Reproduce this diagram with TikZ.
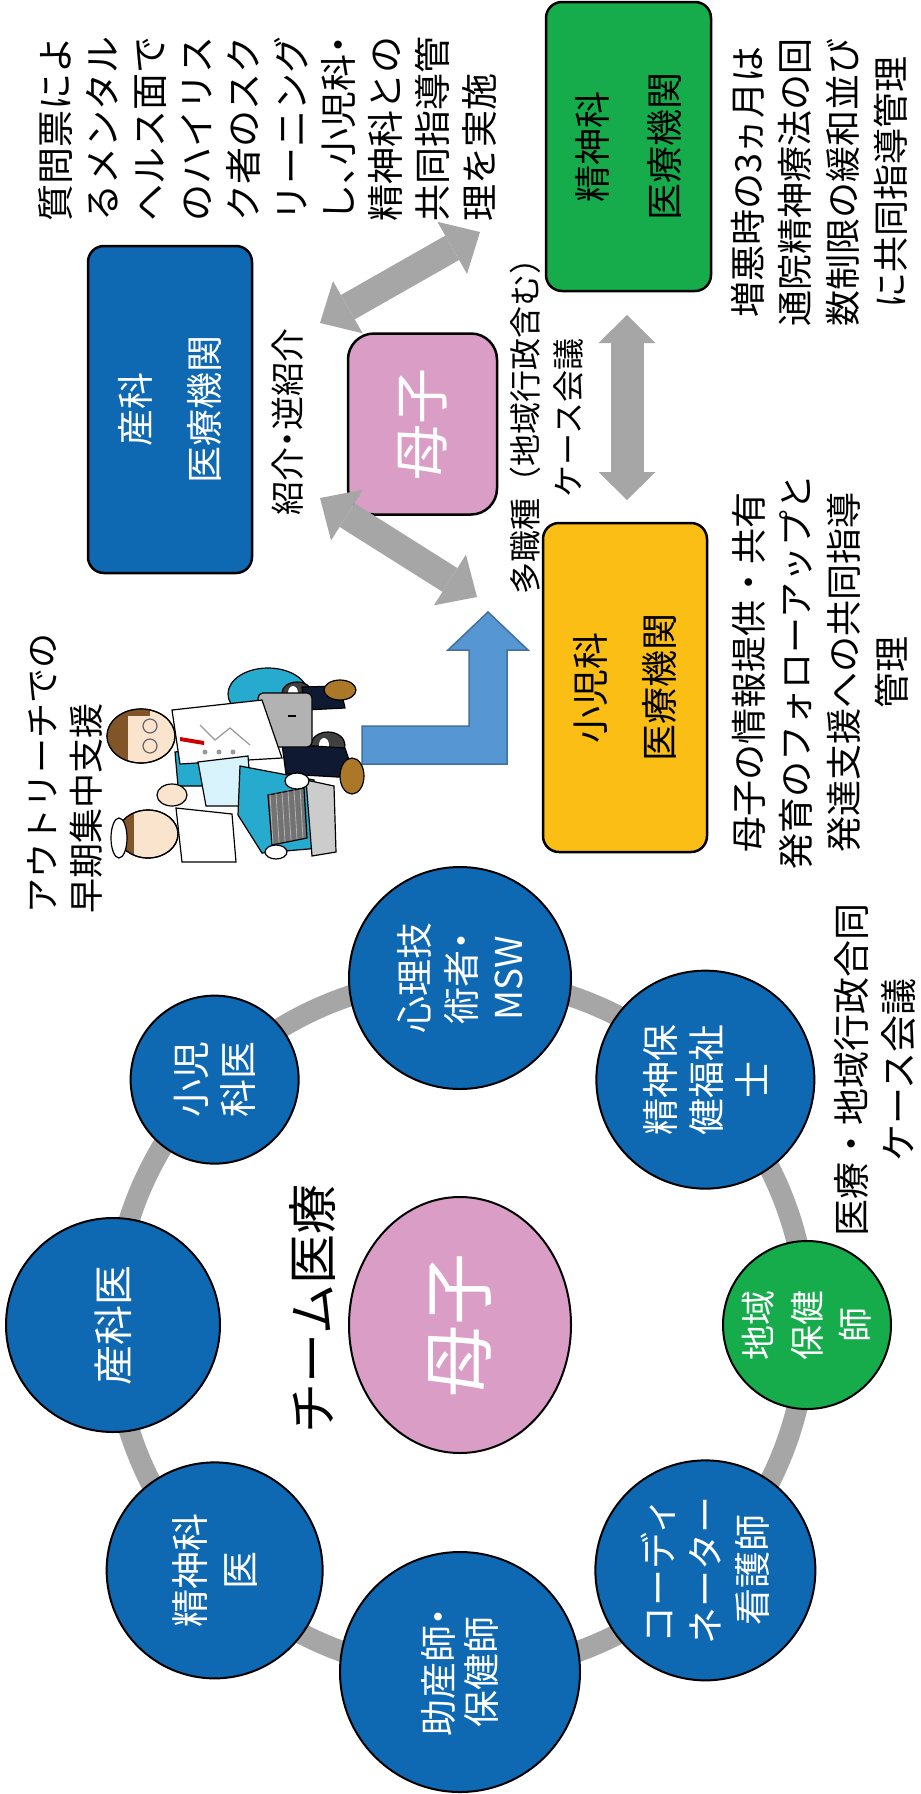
\documentclass[tikz,border=0pt]{standalone}
\usepackage{fontspec}
\setmainfont{Noto Sans CJK JP}
\usetikzlibrary{arrows.meta,shapes.geometric}

\definecolor{medblue}{RGB}{14,104,178}
\definecolor{medgreen}{RGB}{22,172,76}
\definecolor{medyellow}{RGB}{251,190,20}
\definecolor{mompink}{RGB}{218,157,198}
\definecolor{arrgray}{RGB}{166,166,166}
\definecolor{bentblue}{RGB}{86,151,211}
\definecolor{bentedge}{RGB}{65,113,156}
\definecolor{carteal}{RGB}{38,170,205}
\definecolor{skin}{RGB}{250,228,205}
\definecolor{hair}{RGB}{130,85,40}
\definecolor{navy}{RGB}{15,25,50}
\definecolor{shoe}{RGB}{170,120,40}

\newcommand\sz[2]{\fontsize{#1}{#2}\selectfont}
\newcommand\hw[2][c]{\makebox[.5em][#1]{#2}}

\begin{document}
\begin{tikzpicture}[x=1pt,y=-1pt,
    box/.style={rectangle,rounded corners=16pt,draw=black,line width=2.5pt,rotate=90,align=center,inner sep=0pt},
    member/.style={circle,draw=black,line width=2pt,fill=medblue,text=white,align=center,rotate=90,inner sep=0pt},
    note/.style={rotate=90,inner sep=0pt},
    twoway/.style={color=arrgray,line width=28pt,>={Triangle[length=32pt,width=60pt,line width=0pt]},<->}]

    \path[fill=white,use as bounding box] (0,0) rectangle (921,1794);

    \node[box,fill=medblue,text=white,minimum width=327pt,minimum height=164pt,font=\sz{37}{69}] (obst) at (170,409.5) {産科\\医療機関};
    \node[box,fill=medgreen,minimum width=289pt,minimum height=165pt,font=\sz{37}{72}] (psych) at (628.5,146.5) {精神科\\医療機関};
    \node[box,fill=medyellow,minimum width=329pt,minimum height=164pt,font=\sz{37}{69}] (pedi) at (625,687.5) {小児科\\医療機関};
    \node[box,fill=mompink,text=white,rounded corners=26pt,minimum width=181pt,minimum height=149pt,font=\sz{56}{60}] (mc) at (422.5,424) {母子};

    \node[note,align=left,font=\sz{37}{47.2}] (screen) at (267.5,128.5) {質問票によ\\るメンタル\\ヘルス面で\\のハイリス\\ク者のスク\\リーニング\\し\hw[l]{、}小児科\hw{・}\\精神科との\\共同指導管\\理を実施};
    \node[note,font=\sz{34}{40}] (refer) at (288,422) {紹介\hw{・}逆紹介};
    \node[note,align=center,font=\sz{32}{43}] (conf) at (546.5,418) {多職種（地域行政含む）\\ケース会議};
    \node[note,align=center,font=\sz{36}{47.7}] (psychnote) at (819,182) {増悪時の3ヵ月は\\通院精神療法の回\\数制限の緩和並び\\に共同指導管理};
    \node[note,align=center,font=\sz{36}{47.7}] (pedinote) at (820,672) {母子の情報提供・共有\\発育のフォローアップと\\発達支援への共同指導\\管理};
    \node[note,align=left,font=\sz{35}{44}] (outreach) at (65,773) {アウトリーチでの\\早期集中支援};

    \coordinate (ob-a) at (320,323);
    \coordinate (ps-a) at (480,232);
    \coordinate (ob-b) at (320,498);
    \coordinate (pd-b) at (477,597);
    \coordinate (ps-c) at (627,315);
    \coordinate (pd-c) at (627,500);
    \path[twoway] (ob-a) edge (ps-a)
                  (ob-b) edge (pd-b);
    \path[twoway,line width=33pt,>={Triangle[length=28pt,width=57pt,line width=0pt]}] (ps-c) edge (pd-c);

    \filldraw[fill=bentblue,draw=bentedge,line width=1.5pt] (362,726) -- (469,726) -- (469,650) -- (448,650) -- (488,612)
        -- (528,650) -- (507,650) -- (507,764) -- (362,764) -- cycle;

    \begin{scope}[line width=1.2pt]
        \filldraw[fill=carteal] (268,694) ellipse [x radius=40pt,y radius=26pt];
        \filldraw[fill=black!75] (297,693) ellipse [x radius=15pt,y radius=11pt];
        \filldraw[fill=black!75] (328,745) ellipse [x radius=17pt,y radius=13pt];
        \fill[white] (293,693) ellipse [x radius=5pt,y radius=7pt];
        \fill[white] (324,745) ellipse [x radius=5pt,y radius=7pt];
        \filldraw[fill=navy] (282,744) -- (345,748) -- (355,778) -- (286,774) -- cycle;
        \filldraw[fill=navy] (302,687) -- (340,686) -- (345,708) -- (305,710) -- cycle;
        \filldraw[fill=shoe] (352,776) ellipse [x radius=12pt,y radius=18pt];
        \filldraw[fill=shoe] (340,690) ellipse [x radius=16pt,y radius=10pt];
        \filldraw[fill=black!30,rounded corners=5pt] (258,693) rectangle (312,747);
        \draw (288,716) -- (296,716);
        \filldraw[fill=carteal] (175,752) -- (205,748) -- (208,786) -- (178,786) -- cycle;
        \filldraw[fill=white] (172,710) -- (262,700) -- (282,758) -- (180,764) -- cycle;
        \draw[black!40] (200,725) -- (215,740) -- (230,728) -- (250,745);
        \foreach \k in {0,1,2}
            \fill[black!40] (205+\k*14,752) circle [radius=2.5pt];
        \fill[red!80!black] (180,737) -- (204,741) -- (204,745) -- (180,741) -- cycle;
        \filldraw[fill=cyan!15] (198,762) -- (248,756) -- (252,806) -- (206,806) -- cycle;
        \filldraw[fill=carteal] (240,766) -- (314,780) -- (320,848) -- (262,853) -- (238,815) -- cycle;
        \filldraw[fill=black!55] (268,795) -- (304,788) -- (307,838) -- (272,845) -- cycle;
        \foreach \k in {0,...,5}
            \draw[black!30,line width=.8pt] (270+\k*6,794-\k*1.2) -- (273+\k*6,844-\k*1.2);
        \filldraw[fill=black!20] (306,780) -- (334,786) -- (336,852) -- (312,856) -- cycle;
        \filldraw[fill=white] (297,781) ellipse [x radius=12pt,y radius=8pt];
        \filldraw[fill=white] (276,852) ellipse [x radius=11pt,y radius=7pt];
        \filldraw[fill=white] (176,808) -- (232,814) -- (236,862) -- (182,862) -- cycle;
        \filldraw[fill=skin] (172,795) ellipse [x radius=15pt,y radius=11pt];
        \filldraw[fill=skin] (141,736) ellipse [x radius=34pt,y radius=27pt];
        \begin{scope}
            \clip (141,736) ellipse [x radius=34pt,y radius=27pt];
            \fill[hair] (100,700) rectangle (128,775);
            \fill[hair] (100,700) rectangle (150,716);
        \end{scope}
        \draw (141,736) ellipse [x radius=34pt,y radius=27pt];
        \draw[black!60] (150,726) circle [radius=7pt] (150,746) circle [radius=7pt];
        \filldraw[fill=skin] (148,834) ellipse [x radius=30pt,y radius=24pt];
        \begin{scope}
            \clip (148,834) ellipse [x radius=30pt,y radius=24pt];
            \fill[hair] (100,800) rectangle (134,870);
        \end{scope}
        \draw (148,834) ellipse [x radius=30pt,y radius=24pt];
        \filldraw[fill=white] (119,838) ellipse [x radius=8pt,y radius=20pt];
    \end{scope}

    \coordinate (ring) at (460,1325);
    \draw[arrgray,line width=21pt] (ring) circle [radius=347pt];
    \node[ellipse,draw=black,line width=2pt,fill=mompink,rotate=90,minimum width=256pt,minimum height=222pt,
          text=white,font=\sz{72}{76}] (mom) at (ring) {母子};
    \node[note,font=\sz{50}{54}] (team) at (313,1309) {チーム医療};

    \node[member,fill=medgreen,minimum size=168pt,font=\sz{35}{48.5}] (phn) at ([shift={(0:347)}]ring) {地域\\保健\\師};
    \node[member,minimum size=220pt,font=\sz{37}{47}] (coord) at ([shift={(45:347)}]ring) {コーディ\\ネーター\\看護師};
    \node[member,minimum size=240pt,font=\sz{37}{43}] (midw) at ([shift={(90:347)}]ring) {助産師\hw{・}\\保健師};
    \node[member,minimum size=216pt,font=\sz{38}{50}] (psydr) at ([shift={(135:347)}]ring) {精神科\\医};
    \node[member,minimum size=214pt,font=\sz{40}{48}] (obdr) at ([shift={(180:347)}]ring) {産科医};
    \node[member,minimum size=168pt,font=\sz{38}{47}] (peddr) at ([shift={(225:347)}]ring) {小児\\科医};
    \node[member,minimum size=222pt,font=\sz{37}{47}] (cp) at ([shift={(270:347)}]ring) {心理技\\術者\hw{・}\\MSW};
    \node[member,minimum size=218pt,font=\sz{37}{46}] (psw) at ([shift={(315:347)}]ring) {精神保\\健福祉\\士};

    \node[note,align=center,font=\sz{37}{47}] (jointconf) at (875.5,1070) {医療・地域行政合同\\ケース会議};
\end{tikzpicture}
\end{document}
